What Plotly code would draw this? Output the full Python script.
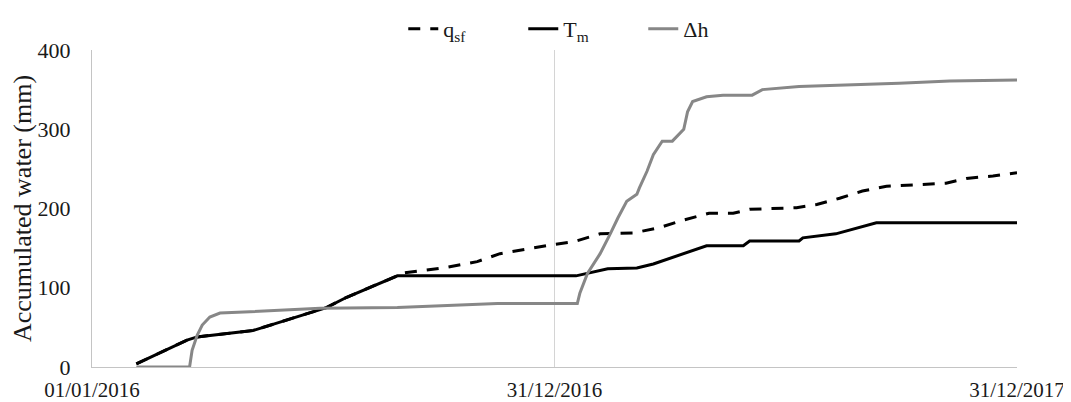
import plotly.graph_objects as go

# q_sf (dashed black)
qsf_dates = ["2016-02-05", "2016-03-16", "2016-03-24", "2016-05-07", "2016-07-04", "2016-07-20",
             "2016-08-29", "2016-08-31", "2016-10-04", "2016-10-31", "2016-11-18", "2016-12-06",
             "2016-12-28", "2017-01-15", "2017-02-05", "2017-03-03", "2017-03-24", "2017-04-11",
             "2017-05-02", "2017-05-21", "2017-06-03", "2017-07-10", "2017-07-26", "2017-08-13",
             "2017-08-31", "2017-09-19", "2017-11-05", "2017-11-21", "2017-12-12", "2017-12-31"]
qsf_vals = [4, 34, 38, 46, 75, 88,
            115, 118, 125, 133, 143, 148,
            154, 158, 168, 169, 176, 185,
            194, 194, 199, 201, 205, 213,
            222, 228, 232, 238, 241, 245]

# T_m (solid black)
tm_dates = ["2016-02-05", "2016-03-16", "2016-03-24", "2016-05-07", "2016-07-04", "2016-07-20",
            "2016-08-29", "2017-01-17", "2017-02-11", "2017-03-06", "2017-03-19", "2017-04-06",
            "2017-04-30", "2017-05-29", "2017-06-03", "2017-07-12", "2017-07-15", "2017-08-10",
            "2017-08-29", "2017-09-11", "2017-12-31"]
tm_vals = [4, 34, 38, 46, 75, 88,
           115, 115, 124, 125, 130, 140,
           153, 153, 159, 159, 163, 168,
           176, 182, 182]

# Δh (solid grey)
dh_dates = ["2016-02-05", "2016-03-18", "2016-03-20", "2016-03-24", "2016-03-28", "2016-04-03",
            "2016-04-11", "2016-04-24", "2016-05-15", "2016-06-29", "2016-08-29", "2016-10-10",
            "2016-11-16", "2017-01-18", "2017-01-20", "2017-01-26", "2017-02-05", "2017-02-13",
            "2017-02-19", "2017-02-26", "2017-03-06", "2017-03-08", "2017-03-14", "2017-03-19",
            "2017-03-26", "2017-04-03", "2017-04-12", "2017-04-15", "2017-04-19", "2017-04-30",
            "2017-05-13", "2017-06-05", "2017-06-13", "2017-07-12", "2017-08-21", "2017-09-29",
            "2017-11-08", "2017-12-31"]
dh_vals = [0, 0, 21, 40, 53, 63,
           68, 69, 71, 74, 75, 78,
           80, 80, 93, 118, 143, 168,
           188, 209, 218, 226, 247, 268,
           285, 285, 300, 322, 335, 341,
           343, 343, 350, 354, 356, 358,
           361, 362]

tick_vals = ["2016-01-01", "2016-12-31", "2017-12-31"]
tick_text = ["01/01/2016", "31/12/2016", "31/12/2017"]
y_ticks = [0, 100, 200, 300, 400]

font_family = "Liberation Serif, Times New Roman, serif"

fig = go.Figure()
fig.add_trace(go.Scatter(x=qsf_dates, y=qsf_vals, mode="lines", name="q<sub>sf</sub>",
                         line=dict(color="black", width=3, dash="12px,10px")))
fig.add_trace(go.Scatter(x=tm_dates, y=tm_vals, mode="lines", name="T<sub>m</sub>",
                         line=dict(color="black", width=3)))
fig.add_trace(go.Scatter(x=dh_dates, y=dh_vals, mode="lines", name="Δh",
                         line=dict(color="#878787", width=3)))

# page body has an 8px margin; compensate in the margins
fig.update_layout(
    width=1071, height=402,
    margin=dict(l=84, r=62, t=40, b=43),
    paper_bgcolor="white", plot_bgcolor="white",
    font=dict(family=font_family, size=21, color="#1a1a1a"),
    legend=dict(orientation="h", x=0.3365, xanchor="left", xref="paper",
                y=1.0, yanchor="top", yref="container",
                font=dict(size=22), entrywidth=75, entrywidthmode="pixels",
                bgcolor="rgba(0,0,0,0)"),
    xaxis=dict(type="date", range=["2016-01-01", "2017-12-31"], tickmode="array",
               tickvals=tick_vals, ticktext=tick_text, showgrid=True, gridcolor="#d4d4d4",
               gridwidth=1, showline=True, linecolor="#c4c4c4", linewidth=1, ticks="",
               zeroline=False, tickfont=dict(size=21), ticklabelstandoff=4, automargin=False),
    yaxis=dict(range=[0, 400], tickvals=y_ticks, showgrid=False,
               showline=True, linecolor="#c4c4c4", linewidth=1, ticks="", zeroline=False,
               title=dict(text="Accumulated water (mm)", font=dict(size=26), standoff=4),
               tickfont=dict(size=22), ticklabelstandoff=16, automargin=False),
)

fig.write_html("out.html")
